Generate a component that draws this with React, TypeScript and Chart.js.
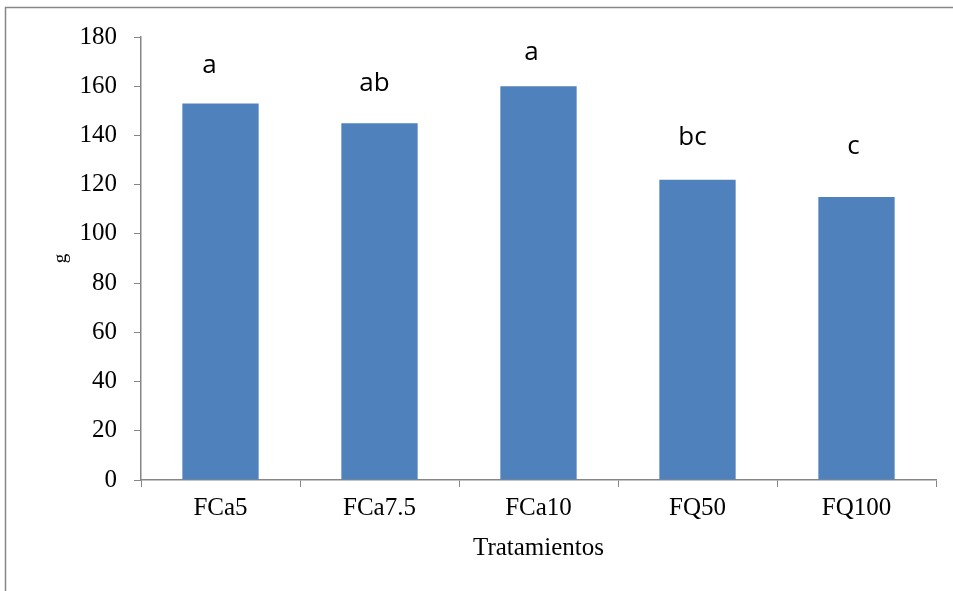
import React, { useEffect, useRef } from "react";
import { Chart, registerables } from "chart.js";

Chart.register(...registerables);

const categories = ["FCa5", "FCa7.5", "FCa10", "FQ50", "FQ100"];
const values = [153, 145, 160, 122, 115];
const letters = ["a", "ab", "a", "bc", "c"];
const letterGaps = [30, 32, 26, 35, 43];
const letterShifts = [-11, -5, -7, -5, -3];

const SERIF = "'Liberation Serif', 'Times New Roman', serif";
const SANS = "'Open Sans', 'Liberation Sans', sans-serif";
const AXIS = "#868686";

const framePlugin = {
  id: "frame",
  beforeDraw(chart: any) {
    const ctx = chart.ctx;
    ctx.save();
    ctx.fillStyle = "#ffffff";
    ctx.fillRect(0, 0, chart.width, chart.height);
    ctx.strokeStyle = AXIS;
    ctx.lineWidth = 1.5;
    ctx.beginPath();
    ctx.moveTo(5.5, chart.height);
    ctx.lineTo(5.5, 7.5);
    ctx.lineTo(chart.width, 7.5);
    ctx.stroke();
    ctx.restore();
  },
};

const lettersPlugin = {
  id: "letters",
  afterDatasetsDraw(chart: any) {
    const ctx = chart.ctx;
    const meta = chart.getDatasetMeta(0);
    ctx.save();
    ctx.fillStyle = "#000000";
    ctx.font = `26px ${SANS}`;
    ctx.textAlign = "center";
    ctx.textBaseline = "alphabetic";
    meta.data.forEach((bar: any, i: number) => {
      ctx.fillText(letters[i], bar.x + letterShifts[i], bar.y - letterGaps[i]);
    });
    ctx.restore();
  },
};

export default function App() {
  const ref = useRef<HTMLCanvasElement | null>(null);
  useEffect(() => {
    if (!ref.current) return;
    const chart = new Chart(ref.current, {
      type: "bar",
      data: {
        labels: categories,
        datasets: [
          {
            data: values,
            backgroundColor: "#4F81BD",
            borderWidth: 0,
            categoryPercentage: 1,
            barPercentage: 0.48,
          },
        ],
      },
      options: {
        responsive: false,
        animation: false,
        maintainAspectRatio: false,
        layout: { padding: { top: 37, right: 17, bottom: 0, left: 0 } },
        plugins: {
          legend: { display: false },
          tooltip: { enabled: false },
        },
        scales: {
          x: {
            grid: {
              display: true,
              drawOnChartArea: false,
              drawTicks: true,
              tickLength: 7,
              color: AXIS,
              offset: true,
            },
            border: { display: true, color: AXIS, width: 1.5 },
            ticks: {
              color: "#000000",
              font: { family: SERIF, size: 25 },
              padding: 6,
              maxRotation: 0,
            },
            title: {
              display: true,
              text: "Tratamientos",
              color: "#000000",
              font: { family: SERIF, size: 25 },
              padding: { top: 0, bottom: 28 },
            },
            afterFit(scale: any) {
              scale.height = 111;
            },
          },
          y: {
            min: 0,
            max: 180,
            grid: {
              display: true,
              drawOnChartArea: false,
              drawTicks: true,
              tickLength: 7,
              color: AXIS,
            },
            border: { display: true, color: AXIS, width: 1.5 },
            ticks: {
              stepSize: 20,
              color: "#000000",
              font: { family: SERIF, size: 25 },
              padding: 17,
            },
            title: {
              display: true,
              text: "g",
              color: "#000000",
              font: { family: SERIF, size: 19 },
              padding: { top: 50, bottom: 0 },
            },
            afterFit(scale: any) {
              scale.width = 141;
            },
          },
        },
      },
      plugins: [framePlugin, lettersPlugin],
    });
    return () => chart.destroy();
  }, []);
  return (
    <div style={{ position: "absolute", left: 0, top: 0, width: 953, height: 591 }}>
      <canvas ref={ref} width={953} height={591} style={{ display: "block" }} />
    </div>
  );
}
